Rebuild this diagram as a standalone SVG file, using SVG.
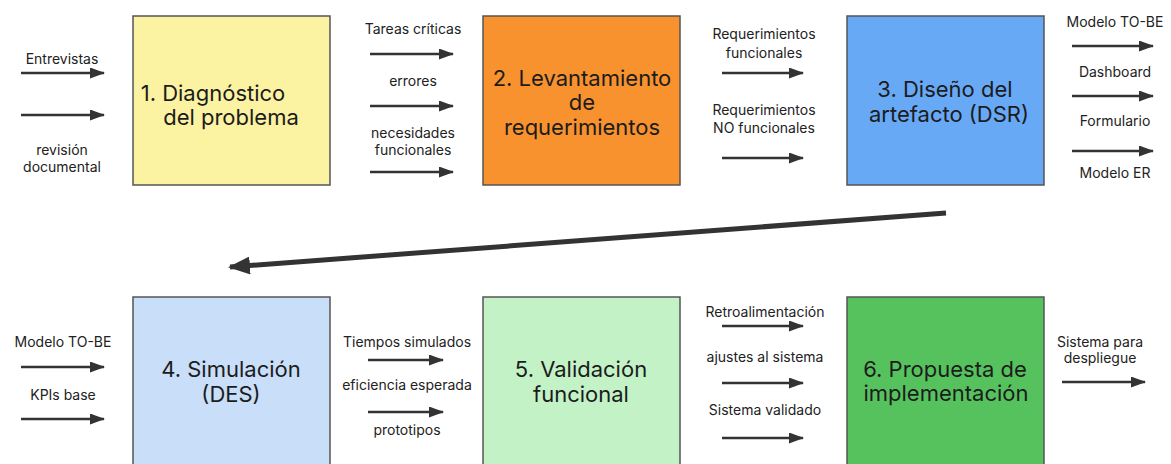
<svg xmlns="http://www.w3.org/2000/svg" width="1171" height="464" viewBox="0 0 1171 464">
<defs>
<marker id="ah" markerUnits="userSpaceOnUse" markerWidth="15" markerHeight="11" refX="14" refY="5.5" orient="auto">
<path d="M0,0 L15,5.5 L0,11 Z" fill="#333"/>
</marker>
<marker id="ahb" markerUnits="userSpaceOnUse" markerWidth="22" markerHeight="18" refX="20" refY="9" orient="auto">
<path d="M0,0 L22,9 L0,18 Z" fill="#333"/>
</marker>
<style>
.box{stroke:#555;stroke-width:1.5}
.t{font-family:Inter,"Noto Sans","Liberation Sans",sans-serif;font-size:22px;fill:#1c1c1c;text-anchor:middle}
.l{font-family:Inter,"Noto Sans","Liberation Sans",sans-serif;font-size:14px;fill:#222;text-anchor:middle}
.a{stroke:#333;stroke-width:2.5;fill:none;marker-end:url(#ah)}
.big{stroke:#333;stroke-width:5;fill:none;marker-end:url(#ahb)}
</style>
</defs>
<rect width="1171" height="464" fill="#fff"/>

<g id="n1">
<rect class="box" x="133" y="16" width="197" height="169" fill="#FBF2A2"/>
<text class="t" x="213" y="101">1. Diagnóstico</text>
<text class="t" x="231" y="125">del problema</text>
</g>
<g id="n2">
<rect class="box" x="483" y="16" width="197" height="169" fill="#F7922F"/>
<text class="t" x="582" y="86">2. Levantamiento</text>
<text class="t" x="582" y="110">de</text>
<text class="t" x="582" y="135">requerimientos</text>
</g>
<g id="n3">
<rect class="box" x="847" y="16" width="197" height="169" fill="#68A9F6"/>
<text class="t" x="945" y="97">3. Diseño del</text>
<text class="t" x="949" y="122">artefacto (DSR)</text>
</g>
<g id="n4">
<rect class="box" x="133" y="297" width="197" height="172" fill="#C9DEF8"/>
<text class="t" x="231" y="377">4. Simulación</text>
<text class="t" x="231" y="402">(DES)</text>
</g>
<g id="n5">
<rect class="box" x="483" y="297" width="197" height="172" fill="#C2F2C6"/>
<text class="t" x="581" y="377">5. Validación</text>
<text class="t" x="581" y="402">funcional</text>
</g>
<g id="n6">
<rect class="box" x="847" y="297" width="197" height="172" fill="#56C25E"/>
<text class="t" x="945" y="377">6. Propuesta de</text>
<text class="t" x="946" y="401">implementación</text>
</g>

<g id="labels">
<text class="l" x="62" y="64">Entrevistas</text>
<text class="l" x="62" y="155">revisión</text>
<text class="l" x="62" y="172">documental</text>
<text class="l" x="413" y="34">Tareas críticas</text>
<text class="l" x="413" y="86">errores</text>
<text class="l" x="413" y="138">necesidades</text>
<text class="l" x="413" y="155">funcionales</text>
<text class="l" x="764" y="39">Requerimientos</text>
<text class="l" x="764" y="58">funcionales</text>
<text class="l" x="764" y="115">Requerimientos</text>
<text class="l" x="764" y="133">NO funcionales</text>
<text class="l" x="1115" y="27">Modelo TO-BE</text>
<text class="l" x="1115" y="77">Dashboard</text>
<text class="l" x="1115" y="126">Formulario</text>
<text class="l" x="1115" y="178">Modelo ER</text>
<text class="l" x="63" y="347">Modelo TO-BE</text>
<text class="l" x="63" y="400">KPIs base</text>
<text class="l" x="407" y="347">Tiempos simulados</text>
<text class="l" x="407" y="390">eficiencia esperada</text>
<text class="l" x="407" y="435">prototipos</text>
<text class="l" x="765" y="317">Retroalimentación</text>
<text class="l" x="765" y="362">ajustes al sistema</text>
<text class="l" x="765" y="415">Sistema validado</text>
<text class="l" x="1100" y="347">Sistema para</text>
<text class="l" x="1100" y="363">despliegue</text>
</g>

<g id="connectors">
<line class="a" x1="21" y1="73" x2="104" y2="73"/>
<line class="a" x1="21" y1="115" x2="104" y2="115"/>
<line class="a" x1="370" y1="54" x2="453" y2="54"/>
<line class="a" x1="370" y1="106" x2="453" y2="106"/>
<line class="a" x1="370" y1="172" x2="453" y2="172"/>
<line class="a" x1="722" y1="73" x2="803" y2="73"/>
<line class="a" x1="722" y1="158" x2="803" y2="158"/>
<line class="a" x1="1072" y1="46" x2="1153" y2="46"/>
<line class="a" x1="1072" y1="96" x2="1153" y2="96"/>
<line class="a" x1="1072" y1="151" x2="1153" y2="151"/>
<line class="big" x1="946" y1="213" x2="230" y2="267"/>
<line class="a" x1="21" y1="367" x2="104" y2="367"/>
<line class="a" x1="21" y1="419" x2="104" y2="419"/>
<line class="a" x1="368" y1="360" x2="443" y2="360"/>
<line class="a" x1="368" y1="412" x2="443" y2="412"/>
<line class="a" x1="722" y1="326" x2="803" y2="326"/>
<line class="a" x1="722" y1="383" x2="803" y2="383"/>
<line class="a" x1="722" y1="438" x2="803" y2="438"/>
<line class="a" x1="1062" y1="382" x2="1145" y2="382"/>
</g>
</svg>
